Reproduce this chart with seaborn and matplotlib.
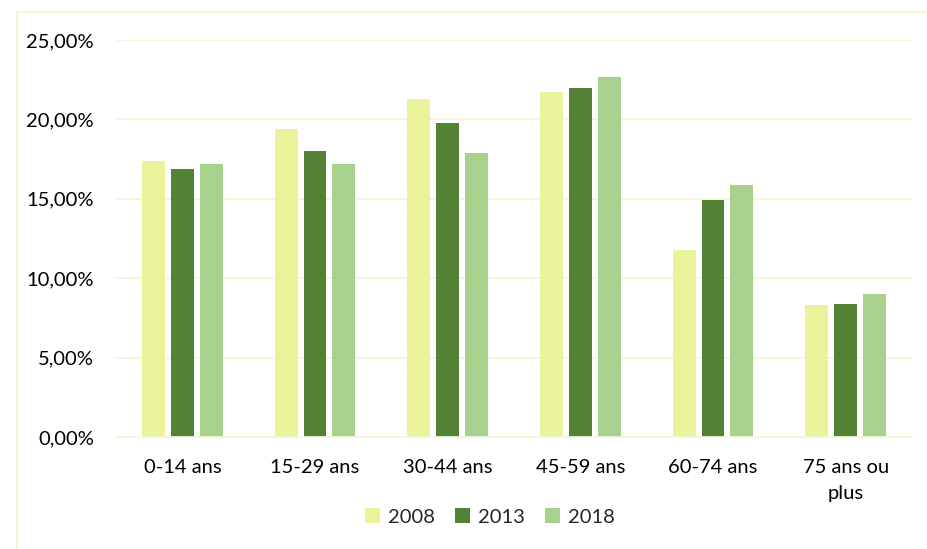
import matplotlib
matplotlib.use("Agg")
import matplotlib.pyplot as plt
import seaborn as sns
import pandas as pd
from matplotlib.patches import Rectangle
from matplotlib.ticker import FuncFormatter

categories = ["0-14 ans", "15-29 ans", "30-44 ans", "45-59 ans", "60-74 ans", "75 ans ou\nplus"]
years = ["2008", "2013", "2018"]
v2008 = [17.4, 19.4, 21.3, 21.7, 11.8, 8.3]
v2013 = [16.9, 18.0, 19.8, 22.0, 14.9, 8.4]
v2018 = [17.2, 17.2, 17.9, 22.7, 15.9, 9.0]
colors = ["#EBF39A", "#548235", "#A9D18E"]

rows = []
for y, vals in zip(years, [v2008, v2013, v2018]):
    for c, v in zip(categories, vals):
        rows.append({"cat": c, "year": y, "val": v})
df = pd.DataFrame(rows)

sns.set_theme(style="white")
plt.rcParams["font.family"] = ["Lato", "DejaVu Sans"]

fig = plt.figure(figsize=(9.28, 5.49), dpi=100)
ax = fig.add_axes([116/928, 1-437/549, (912-116)/928, (437-40)/549])

sns.barplot(data=df, x="cat", y="val", hue="year", order=categories, hue_order=years,
            palette=colors, width=0.65, gap=0.2, ax=ax, saturation=1, errorbar=None,
            edgecolor="none")

ax.set_ylim(0, 25)
ax.set_yticks([0, 5, 10, 15, 20, 25])
ax.yaxis.set_major_formatter(FuncFormatter(lambda v, p: f"{v:.2f}".replace(".", ",") + "%"))
ax.grid(axis="y", color="#F1F7D8", linewidth=1.3)
ax.set_axisbelow(True)
for s in ["top", "right", "left"]:
    ax.spines[s].set_visible(False)
ax.spines["bottom"].set_color("#F1F7D8")
ax.spines["bottom"].set_linewidth(1.3)
ax.tick_params(axis="both", length=0, labelsize=14.5, colors="#000000")
ax.tick_params(axis="x", pad=16)
ax.tick_params(axis="y", pad=16)
for lbl in ax.get_xticklabels():
    lbl.set_linespacing(1.6)
ax.set_xlabel("")
ax.set_ylabel("")

ax.legend(loc="center", bbox_to_anchor=(490/928, 1-517/549), bbox_transform=fig.transFigure,
          ncol=3, frameon=False, fontsize=14.5, handlelength=0.75, handleheight=0.75,
          columnspacing=1.0, handletextpad=0.4)

fig.patches.append(Rectangle((17/928, -0.1), 1.2, 1-12/549+0.1, transform=fig.transFigure,
                             fill=False, edgecolor="#F1F7D8", linewidth=1.5))

fig.savefig("out.png", dpi=100)
